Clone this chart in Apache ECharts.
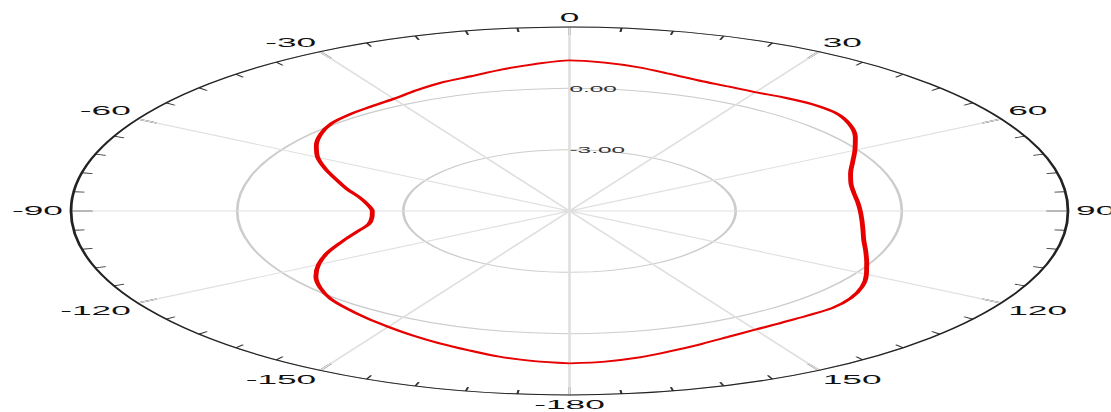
<!DOCTYPE html>
<html>
<head>
<meta charset="utf-8">
<script src="https://cdn.jsdelivr.net/npm/echarts@6/dist/echarts.min.js"></script>
<style>
html,body{margin:0;padding:0;background:#fff;overflow:hidden;}
#wrap{width:1111px;height:412px;position:relative;overflow:hidden;}
#chart{position:absolute;left:0;top:0;transform-origin:0 0;}
</style>
</head>
<body>
<div id="wrap"><div id="chart"></div></div>
<script>
// Angles in degrees (-180..180), values in dB
const angles = [-180,-175,-170,-165,-160,-155,-150,-145,-140,-135,-130,-125,-120,-115,-110,-105,-100,-95,-90,-85,-80,-75,-70,-65,-60,-55,-50,-45,-40,-35,-30,-25,-20,-15,-10,-5,0,5,10,15,20,25,30,35,40,45,50,55,60,65,70,75,80,85,90,95,100,105,110,115,120,125,130,135,140,145,150,155,160,165,170,175,180];
const gainDb = [1.45,1.37,1.24,1.05,0.88,0.71,0.54,0.39,0.24,0.09,-0.13,-0.41,-0.77,-1.18,-1.63,-2.02,-2.32,-2.42,-2.44,-2.34,-2.15,-1.84,-1.52,-1.14,-0.75,-0.42,-0.14,0.07,0.17,0.24,0.34,0.52,0.70,0.83,1.03,1.21,1.37,1.28,1.14,0.95,0.80,0.73,0.71,0.77,0.82,0.79,0.60,0.30,-0.05,-0.36,-0.60,-0.74,-0.79,-0.78,-0.75,-0.70,-0.62,-0.50,-0.31,-0.08,0.19,0.45,0.63,0.71,0.68,0.67,0.70,0.79,0.93,1.09,1.27,1.39,1.45];
const radiusMin = -6, radiusMax = 3, radiusStep = 3;

const SX = 498.5 / 184;
const W0 = 1111 / SX, H0 = 412;
const el = document.getElementById('chart');
el.style.width = W0 + 'px';
el.style.height = H0 + 'px';
el.style.transform = 'scaleX(' + SX + ')';

const chart = echarts.init(el, null, {renderer: 'svg', width: W0, height: H0});
const data = angles.map((a, i) => [gainDb[i], a < 0 ? a + 360 : a]);
const FONT = 'Liberation Sans, Arial, sans-serif';

chart.setOption({
  animation: false,
  polar: {center: [569.5 / SX, 211], radius: 184},
  angleAxis: {
    type: 'value', min: 0, max: 360, interval: 30, startAngle: 90, clockwise: true,
    axisLine: {show: true, lineStyle: {color: '#222', width: 1}},
    axisTick: {show: true, inside: true, length: 8, lineStyle: {color: '#222', width: 1}},
    minorTick: {show: true, splitNumber: 5, length: 4, lineStyle: {color: '#333', width: 0.8}},
    axisLabel: {
      margin: 3, fontSize: 13, color: '#111', fontFamily: FONT,
      formatter: v => v === 360 ? '' : String(v >= 180 ? v - 360 : v)
    },
    splitLine: {show: true, lineStyle: {color: '#e0e0e0', width: 1}}
  },
  radiusAxis: {
    type: 'value', min: radiusMin, max: radiusMax, interval: radiusStep,
    axisLine: {show: false}, axisTick: {show: false},
    axisLabel: {
      margin: 0, align: 'left', verticalAlign: 'middle', padding: [0, 0, 6, 0],
      fontSize: 9, color: '#333', fontFamily: FONT,
      formatter: v => (v === radiusMin || v === radiusMax) ? '' : v.toFixed(2)
    },
    splitLine: {show: true, lineStyle: {color: '#cccccc', width: 1}}
  },
  series: [{
    type: 'line', coordinateSystem: 'polar', data: data,
    showSymbol: false, symbol: 'none', smooth: 0.3,
    lineStyle: {color: '#e60000', width: 1.8}
  }]
});
</script>
</body>
</html>
